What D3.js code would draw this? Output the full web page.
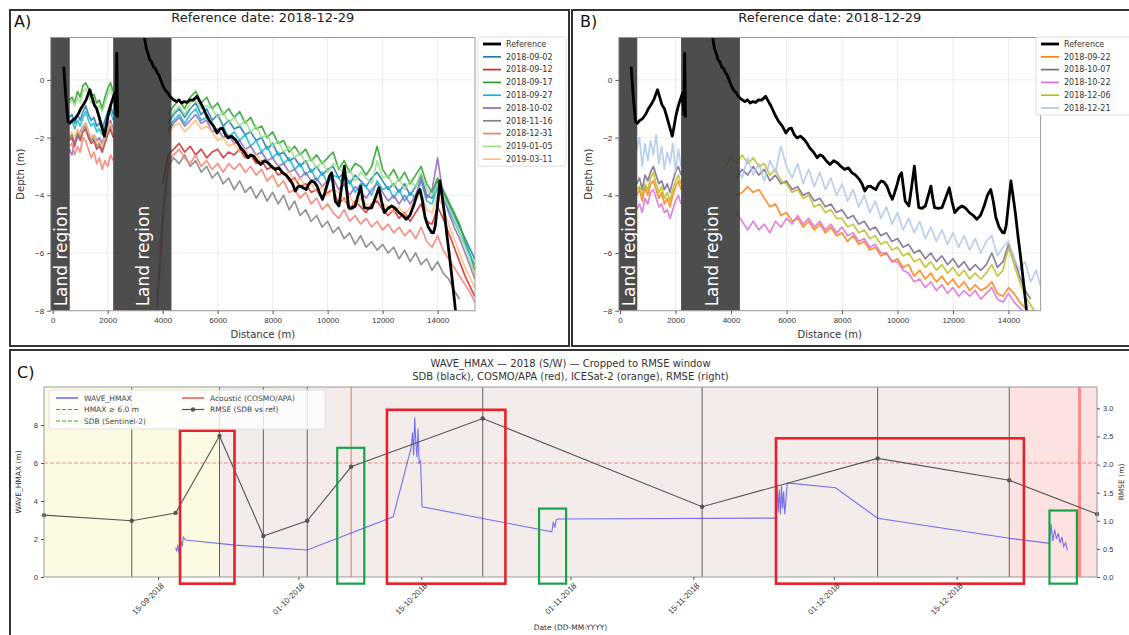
<!DOCTYPE html>
<html>
<head>
<meta charset="utf-8">
<script src="https://cdn.jsdelivr.net/npm/d3@7"></script>
<style>
  body { margin: 0; background: #fff; }
  svg { display: block; font-family: "DejaVu Sans", sans-serif; }
</style>
</head>
<body>
<div id="chart"></div>
<script>
// ---------- profile data (panels A and B) ----------
const nearDist = [600,700,800,900,1000,1100,1200,1300,1400,1500,1600,1700,1800,1900,2000,2100,2200];
const farDist = [3800,4000,4200,4400,4600,4800,5000,5200,5400,5600,5800,6000,6200,6400,6600,6800,7000,7200,7400,7600,
  7800,8000,8200,8400,8600,8800,9000,9200,9400,9600,9800,10000,10200,10400,10600,10800,11000,11200,11400,11600,
  11800,12000,12200,12400,12600,12800,13000,13200,13400,13600,13800,14000,14200,14400,14600,14800,15000,15200,15350];

const refDist = [400,470,555,620,720,820,920,1020,1120,1217,1350,1430,1508,1600,1680,1780,1880,1950,2010,2100,2170,2250,2300,2330,2360,
  2800,3300,3400,3466,3530,3598,3660,3730,3800,3862,3930,3995,4060,4127,4190,4259,4392,4500,4590,4690,4788,4890,4987,5100,5251,
  5350,5450,5580,5714,5850,5979,6080,6177,6280,6376,6500,6640,6740,6839,6970,7103,7200,7302,7430,7566,7700,7831,7960,8095,8230,
  8360,8490,8624,8720,8823,8920,9021,9120,9220,9320,9418,9520,9616,9720,9815,9900,9987,10060,10146,10210,10278,10410,10510,10608,
  10690,10767,10880,11005,11110,11204,11270,11336,11470,11601,11730,11865,11960,12063,12200,12328,12460,12593,12730,12857,12990,
  13122,13240,13360,13450,13545,13660,13783,13850,13915,14000,14087,14160,14246,14340,14444,14540,14643,14709];
const refDepth = [0.46,-0.5,-1.44,-1.5,-1.4,-1.33,-1.2,-1.0,-0.85,-0.69,-0.34,-0.6,-0.86,-1.0,-1.26,-1.6,-1.95,-1.6,-1.26,-0.9,-0.69,-0.46,-1.2,0.92,-1.3,
  null,1.7,1.1,0.92,0.7,0.63,0.45,0.4,0.25,0.17,0.0,-0.17,-0.3,-0.4,-0.45,-0.57,-0.69,-0.75,-0.69,-0.8,-0.75,-0.78,-0.69,-0.7,-0.57,
  -0.75,-0.92,-1.2,-1.44,-1.6,-1.84,-1.7,-1.67,-1.9,-2.01,-1.95,-2.07,-2.2,-2.36,-2.5,-2.7,-2.6,-2.64,-2.8,-2.93,-2.8,-2.87,-3.0,-3.1,-3.05,
  -3.22,-3.3,-3.45,-3.6,-3.85,-3.7,-3.68,-3.75,-3.8,-3.6,-3.5,-3.55,-3.68,-3.95,-4.14,-3.9,-3.62,-3.35,-3.22,-3.7,-4.2,-4.37,-3.7,-2.99,
  -3.8,-4.43,-4.45,-4.37,-4.0,-3.68,-4.1,-4.43,-4.45,-4.43,-4.1,-3.74,-4.2,-4.6,-4.45,-4.37,-4.45,-4.6,-4.7,-4.83,-4.7,
  -4.37,-4.0,-3.8,-4.2,-4.77,-5.1,-5.29,-5.3,-5.06,-4.3,-3.5,-4.0,-4.6,-5.4,-6.2,-7.0,-7.93,-8.4];

const landStart = [-200, 2200];
const landEnd = [620, 4320];

const datesA = ["2018-09-02","2018-09-12","2018-09-17","2018-09-27","2018-10-02","2018-11-16","2018-12-31","2019-01-05","2019-03-11"];
const colorsA = ["#1f78b4","#d62728","#2ca02c","#12b8d6","#9467bd","#808080","#f4806e","#98df8a","#ffbb78"];

const a0902Near = [-1.3,-1.2,-1.5,-1.2,-1.4,-1.1,-0.9,-1.2,-1.4,-1.3,-1.6,-1.5,-1.7,-1.4,-1.1,-0.9,-1.2];
const a0902Far = [null,null,-1.5,-1.2,-1.0,-1.3,-1.0,-0.8,-1.2,-1.0,-1.4,-1.2,-1.6,-1.4,-1.7,-1.6,-1.9,-1.8,-2.1,-2.0,
  -2.4,-2.2,-2.6,-2.5,-2.8,-2.7,-3.0,-2.8,-3.2,-3.0,-3.3,-3.1,-3.0,-3.4,-3.2,-3.6,-3.3,-3.5,-3.7,-3.4,
  -3.2,-3.5,-3.8,-3.6,-3.9,-3.6,-4.0,-3.7,-3.3,-4.0,-4.1,-3.5,-3.9,-4.3,-4.7,-5.1,-5.5,-5.9,-6.2];
const a0912Near = [-2.1,-2.0,-2.3,-1.9,-2.1,-1.8,-1.7,-2.0,-2.2,-2.1,-2.4,-2.3,-2.5,-2.2,-1.9,-1.7,-2.0];
const a0912Far = [null,-3.6,-2.6,-2.4,-2.2,-2.5,-2.3,-2.6,-2.4,-2.7,-2.5,-2.4,-2.7,-2.5,-2.6,-2.4,-2.7,-2.6,-2.9,-2.8,
  -3.1,-3.0,-3.3,-3.2,-3.5,-3.4,-3.7,-3.6,-3.9,-3.8,-4.1,-3.9,-3.8,-4.3,-4.1,-4.5,-4.2,-4.4,-4.6,-4.3,
  -4.2,-4.5,-4.7,-4.5,-4.8,-4.6,-4.9,-4.6,-4.3,-4.9,-5.0,-4.4,-4.8,-5.3,-5.8,-6.3,-6.8,-7.2,-7.5];
const a0917Near = [-0.7,-0.6,-0.8,-0.4,-0.6,-0.2,-0.1,-0.3,-0.6,-0.5,-0.8,-0.7,-1.0,-0.6,-0.3,-0.1,-0.4];
const a0917Far = [null,null,-1.2,-0.9,-0.7,-1.0,-0.6,-0.4,-0.8,-0.6,-1.0,-0.8,-1.2,-1.0,-1.3,-1.1,-1.5,-1.3,-1.7,-1.6,
  -2.0,-1.8,-2.2,-2.1,-2.5,-2.3,-2.6,-2.4,-2.8,-2.6,-2.9,-2.7,-2.5,-3.1,-2.8,-3.2,-2.9,-3.0,-3.3,-3.0,
  -2.3,-3.1,-3.4,-3.1,-3.5,-3.2,-3.6,-3.3,-3.0,-3.6,-3.9,-3.4,-3.8,-4.2,-4.6,-5.0,-5.6,-6.1,-6.6];
const a0927Near = [-1.5,-1.4,-1.7,-1.4,-1.6,-1.3,-1.1,-1.4,-1.6,-1.5,-1.8,-1.7,-1.9,-1.6,-1.3,-1.1,-1.4];
const a0927Far = [null,null,-1.7,-1.4,-1.2,-1.5,-1.2,-1.0,-1.4,-1.3,-1.5,-1.8,-1.6,-2.0,-1.8,-2.1,-1.9,-2.3,-2.1,-2.5,
  -2.3,-2.7,-2.5,-2.9,-2.7,-3.1,-2.9,-3.3,-3.1,-3.5,-3.2,-3.6,-3.3,-3.4,-3.7,-3.5,-3.9,-3.6,-3.7,-4.0,
  -3.5,-3.8,-3.7,-4.1,-3.8,-4.2,-3.9,-4.1,-3.5,-4.2,-4.3,-3.7,-4.1,-4.5,-4.9,-5.3,-5.7,-6.1,-6.4];
const a1002Near = [-2.4,-2.6,-2.2,-2.0,-1.8,-1.6,-1.5,-1.8,-2.0,-1.9,-2.1,-2.0,-2.2,-1.9,-1.6,-1.4,-1.7];
const a1002Far = [null,null,-1.8,-1.5,-1.3,-1.6,-1.4,-1.2,-1.5,-1.4,-1.8,-1.7,-2.0,-1.9,-2.2,-2.1,-2.4,-2.3,-2.6,-2.5,
  -2.8,-2.7,-3.0,-2.9,-3.2,-3.1,-3.4,-3.2,-3.5,-3.4,-3.7,-3.5,-3.4,-3.8,-3.6,-4.0,-3.7,-3.9,-4.1,-3.8,
  -3.6,-3.9,-4.2,-4.0,-4.3,-4.0,-4.3,-4.0,-3.4,-4.1,-3.8,-2.7,-4.0,-4.6,-5.1,-5.5,-6.0,-6.5,-6.9];
const a1116Near = [-2.0,-1.9,-2.2,-1.8,-2.0,-1.7,-1.6,-1.9,-2.1,-2.0,-2.3,-2.2,-2.4,-2.1,-1.8,-1.6,-1.9];
const a1116Far = [-7.9,-5.0,-3.0,-2.7,-2.9,-2.6,-3.0,-2.8,-3.2,-3.0,-3.4,-3.2,-3.6,-3.4,-3.8,-3.5,-3.9,-3.7,-4.1,-3.8,
  -4.2,-3.9,-4.3,-4.0,-4.5,-4.2,-4.7,-4.5,-4.9,-4.7,-5.1,-4.9,-5.3,-5.1,-5.5,-5.3,-5.7,-5.4,-5.8,-5.6,
  -5.9,-5.7,-6.0,-5.8,-6.2,-5.9,-6.3,-6.0,-6.4,-6.2,-6.6,-6.3,-6.7,-6.9,-7.3,-7.6,null,null,null];
const a1231Near = [-2.3,-2.2,-2.6,-2.3,-2.5,-2.0,-2.1,-2.4,-2.7,-2.5,-2.9,-2.7,-3.1,-2.8,-3.0,-2.6,-2.8];
const a1231Far = [-7.5,-4.5,-2.8,-2.6,-2.4,-2.7,-2.9,-2.6,-3.0,-2.8,-3.1,-2.9,-3.2,-2.9,-3.1,-2.9,-3.2,-3.0,-3.3,-3.1,
  -3.5,-3.3,-3.7,-3.5,-3.9,-3.8,-4.1,-3.9,-4.3,-4.1,-4.5,-4.3,-4.6,-4.8,-4.5,-4.9,-4.7,-5.0,-4.8,-5.1,
  -4.9,-5.2,-5.0,-5.3,-5.1,-5.4,-5.2,-5.5,-5.1,-5.6,-5.8,-5.4,-5.9,-6.2,-6.5,-6.8,-7.1,-7.4,-7.7];
const a0105Near = [-0.8,-0.7,-0.9,-0.6,-0.8,-0.4,-0.3,-0.5,-0.8,-0.7,-1.0,-0.9,-1.1,-0.8,-0.5,-0.3,-0.6];
const a0105Far = [null,null,-1.4,-1.1,-0.9,-1.2,-0.8,-0.7,-1.0,-0.9,-1.0,-1.3,-1.1,-1.5,-1.3,-1.6,-1.4,-1.8,-1.6,-2.0,
  -1.9,-2.3,-2.1,-2.5,-2.3,-2.7,-2.5,-2.9,-2.7,-3.1,-2.8,-3.2,-2.9,-3.0,-3.3,-3.1,-3.5,-3.2,-3.4,-3.6,
  -2.8,-3.4,-3.3,-3.7,-3.4,-3.8,-3.5,-3.7,-3.2,-3.8,-4.0,-3.6,-4.0,-4.4,-4.8,-5.3,-5.8,-6.3,-6.8];
const a0311Near = [-1.9,-1.8,-2.0,-1.7,-1.9,-1.6,-1.5,-1.8,-2.0,-1.9,-2.2,-2.1,-2.3,-2.0,-1.7,-1.5,-1.8];
const a0311Far = [null,null,-1.9,-1.6,-1.5,-1.8,-1.6,-1.4,-1.7,-1.6,-1.8,-2.1,-2.0,-2.3,-2.2,-2.5,-2.4,-2.7,-2.6,-2.9,
  -2.8,-3.1,-3.0,-3.3,-3.2,-3.5,-3.4,-3.7,-3.6,-3.9,-3.7,-4.0,-3.8,-3.9,-4.2,-4.0,-4.4,-4.1,-4.3,-4.5,
  -4.0,-4.3,-4.4,-4.6,-4.4,-4.7,-4.4,-4.2,-3.9,-4.5,-4.6,-4.0,-4.4,-5.0,-5.5,-6.0,-6.5,-6.9,-7.2];

const datesB = ["2018-09-22","2018-10-07","2018-10-22","2018-12-06","2018-12-21"];
const colorsB = ["#ff7f0e","#7a6a8c","#dd6fd8","#bcbd22","#aec7e8"];

const b0922Near = [-4.0,-3.8,-4.2,-3.7,-4.0,-3.6,-3.5,-3.8,-4.1,-3.9,-4.3,-4.1,-4.4,-4.0,-3.7,-3.5,-3.8];
const b0922Far = [null,null,-4.0,-3.9,-3.7,-3.9,-3.8,-4.1,-4.4,-4.3,-4.7,-4.6,-4.9,-4.8,-5.1,-4.9,-5.2,-5.0,-5.3,-5.1,
  -5.4,-5.3,-5.6,-5.4,-5.7,-5.6,-5.9,-5.8,-6.1,-6.0,-6.3,-6.2,-6.5,-6.4,-6.8,-6.6,-6.9,-6.7,-7.0,-6.8,
  -7.1,-6.9,-7.2,-7.0,-7.3,-7.1,-7.3,-7.2,-7.0,-7.4,-7.5,-7.2,-7.4,-7.7,-7.9,-8.2,null,null,null];
const b1007Near = [-3.6,-3.4,-3.8,-3.3,-3.5,-3.2,-3.0,-3.3,-3.6,-3.5,-3.8,-3.6,-3.9,-3.5,-3.2,-3.0,-3.3];
const b1007Far = [null,null,-3.4,-3.1,-3.3,-3.0,-3.3,-3.1,-3.5,-3.3,-3.6,-3.5,-3.8,-3.7,-4.0,-3.9,-4.2,-4.1,-4.4,-4.3,
  -4.6,-4.5,-4.8,-4.7,-5.0,-4.9,-5.2,-5.1,-5.4,-5.3,-5.6,-5.5,-5.8,-5.7,-6.0,-5.9,-6.2,-6.0,-6.3,-6.1,
  -6.4,-6.2,-6.5,-6.3,-6.6,-6.4,-6.6,-6.4,-6.0,-6.5,-6.3,-5.7,-6.2,-6.8,-7.3,-7.6,null,null,null];
const b1022Near = [-4.5,-4.3,-4.6,-4.1,-4.3,-3.9,-3.8,-4.1,-4.4,-4.3,-4.6,-4.5,-4.8,-4.5,-4.2,-4.0,-4.3];
const b1022Far = [null,null,-4.6,-4.9,-5.2,-4.9,-5.2,-5.0,-5.3,-4.9,-5.1,-4.8,-5.0,-4.7,-5.0,-4.8,-5.1,-4.9,-5.2,-5.0,
  -5.3,-5.1,-5.4,-5.3,-5.6,-5.5,-5.8,-5.7,-6.0,-6.0,-6.3,-6.3,-6.6,-6.7,-7.0,-6.9,-7.2,-7.0,-7.3,-7.1,
  -7.4,-7.2,-7.5,-7.3,-7.5,-7.3,-7.6,-7.4,-7.2,-7.6,-7.7,-7.4,-7.7,-7.9,-8.1,null,null,null,null];
const b1206Near = [-3.8,-3.7,-4.0,-3.6,-3.8,-3.4,-3.2,-3.6,-3.9,-3.7,-4.1,-3.9,-4.2,-3.8,-3.5,-3.3,-3.6];
const b1206Far = [-3.0,-2.7,-2.9,-2.6,-2.9,-2.7,-3.0,-2.9,-3.3,-3.1,-3.5,-3.6,-3.9,-3.8,-4.1,-4.0,-4.4,-4.3,-4.6,-4.5,
  -4.8,-4.8,-5.1,-5.0,-5.3,-5.2,-5.5,-5.4,-5.7,-5.6,-5.9,-5.8,-6.1,-6.0,-6.3,-6.2,-6.5,-6.3,-6.6,-6.4,
  -6.7,-6.5,-6.8,-6.6,-6.9,-6.7,-6.9,-6.7,-6.4,-6.8,-6.6,-5.8,-6.4,-7.0,-7.5,-7.8,-8.1,null,null];
const b1221Near = [-2.4,-2.0,-3.0,-2.2,-2.8,-2.1,-2.6,-1.9,-2.9,-2.3,-3.1,-2.5,-2.9,-2.2,-3.2,-2.4,-3.0];
const b1221Far = [null,null,-3.0,-3.4,-2.7,-3.3,-2.9,-3.5,-2.8,-3.2,-2.3,-3.0,-3.4,-2.9,-3.6,-3.1,-3.7,-3.2,-3.8,-3.4,
  -4.0,-3.6,-4.2,-3.8,-4.4,-4.0,-4.6,-4.2,-4.8,-4.4,-5.0,-4.6,-5.2,-4.8,-5.3,-4.9,-5.5,-5.1,-5.6,-5.2,
  -5.7,-5.3,-5.8,-5.4,-5.9,-5.5,-6.0,-5.6,-5.4,-6.1,-5.8,-5.6,-6.2,-6.6,-6.3,-7.0,-6.6,-7.3,-6.9];

const distTicks = [0,2000,4000,6000,8000,10000,12000,14000];
const depthTicks = [-8,-6,-4,-2,0];

// ---------- time series data (panel C) ----------
const rmseDates = ["2018-09-02","2018-09-12","2018-09-17","2018-09-22","2018-09-27","2018-10-02","2018-10-07","2018-10-22","2018-11-16","2018-12-06","2018-12-21","2018-12-31"];
const rmseValues = [1.10,1.00,1.14,2.51,0.73,1.00,1.96,2.82,1.25,2.11,1.72,1.12];

const waveTimes = [
  "2018-09-17T00:00","2018-09-17T03:00","2018-09-17T06:00","2018-09-17T09:00","2018-09-17T12:00","2018-09-17T15:00","2018-09-17T18:00","2018-09-17T21:00","2018-09-18T03:00",
  "2018-09-23T19:00","2018-10-02T00:00","2018-10-11T19:00",
  "2018-10-13T20:00","2018-10-14T00:00","2018-10-14T03:00","2018-10-14T06:00","2018-10-14T09:00","2018-10-14T12:00","2018-10-14T15:00","2018-10-14T18:00","2018-10-14T22:00",
  "2018-10-15T02:00",
  "2018-10-29T21:00","2018-10-30T01:00","2018-10-30T05:00","2018-10-30T09:00","2018-10-30T13:00",
  "2018-11-24T10:00",
  "2018-11-24T13:00","2018-11-24T16:00","2018-11-24T19:00","2018-11-24T22:00","2018-11-25T01:00","2018-11-25T04:00","2018-11-25T07:00","2018-11-25T10:00",
  "2018-11-25T17:00","2018-12-01T05:00","2018-12-06T00:00","2018-12-21T00:00","2018-12-25T14:00",
  "2018-12-25T18:00","2018-12-25T23:00","2018-12-26T04:00","2018-12-26T09:00","2018-12-26T14:00","2018-12-26T19:00","2018-12-27T00:00","2018-12-27T05:00","2018-12-27T10:00","2018-12-27T15:00"
];
const waveValues = [
  1.55,1.35,1.7,1.25,1.45,1.9,1.6,2.1,1.95,
  1.68,1.42,3.17,
  6.8,7.6,6.4,8.4,7.1,6.3,7.8,6.0,6.1,
  3.7,
  2.38,2.9,2.6,3.0,3.05,
  3.1,
  4.9,3.4,4.6,3.3,4.8,3.6,4.5,3.3,
  4.95,4.7,3.09,2.04,1.77,
  2.8,1.9,2.5,2.0,2.3,1.8,2.1,1.6,1.8,1.4
];

const sdbDates = ["2018-09-12","2018-09-22","2018-09-27","2018-10-02","2018-10-22","2018-11-16","2018-12-06","2018-12-21"];
const icesatDates = ["2018-10-07"];
const acousticDates = ["2018-12-29"];
const spanStart = ["2018-09-02","2018-09-22","2018-12-21"];
const spanEnd = ["2018-09-22","2018-12-21","2018-12-31"];

const redBoxStart = ["2018-09-17T12:00","2018-10-11T02:00","2018-11-24T10:00"];
const redBoxEnd = ["2018-09-23T17:00","2018-10-24T14:00","2018-12-22T16:00"];
const redBoxTop = [7.7,8.8,7.3];
const greenBoxStart = ["2018-10-05T10:00","2018-10-28T10:00","2018-12-25T14:00"];
const greenBoxEnd = ["2018-10-08T12:00","2018-10-31T12:00","2018-12-28T17:00"];
const greenBoxTop = [6.8,3.6,3.5];
const boxFloor = -0.35;

const dateTicks = ["2018-09-15","2018-10-01","2018-10-15","2018-11-01","2018-11-15","2018-12-01","2018-12-15"];
const hmaxTicks = [0,2,4,6,8];
const rmseTicks = [0,0.5,1,1.5,2,2.5,3];
const hmaxThreshold = 6;

// ---------- setup ----------
const w = 1129;
const h = 635;
const svg = d3.select("#chart").append("svg").attr("width", w).attr("height", h);
const minus = d => (d < 0 ? "\u2212" + Math.abs(d) : String(d));

// panel frames
[[10, 10, 559, 336], [572, 10, 570, 336], [10, 350, 1130, 300]].forEach(([x, y, fw, fh]) => {
  svg.append("rect").attr("x", x).attr("y", y).attr("width", fw).attr("height", fh)
    .attr("fill", "none").attr("stroke", "#333").attr("stroke-width", 2);
});

function styleAxis(g, size) {
  g.select(".domain").remove();
  g.selectAll(".tick line").attr("stroke", "#555");
  g.selectAll(".tick text").attr("fill", "#333").style("font-size", size + "px");
}

function drawProfile(p) {
  const x = d3.scaleLinear().domain(p.xDomain).range([p.left, p.right]);
  const y = d3.scaleLinear().domain([-8, 1.47]).range([p.bottom, p.top]);
  const g = svg.append("g");

  g.append("clipPath").attr("id", "clip" + p.key).append("rect")
    .attr("x", p.left).attr("y", p.top)
    .attr("width", p.right - p.left).attr("height", p.bottom - p.top);

  // grid
  g.append("g").selectAll("line").data(distTicks).join("line")
    .attr("x1", d => x(d)).attr("x2", d => x(d)).attr("y1", p.top).attr("y2", p.bottom)
    .attr("stroke", "#ececec");
  g.append("g").selectAll("line").data(depthTicks).join("line")
    .attr("x1", p.left).attr("x2", p.right).attr("y1", d => y(d)).attr("y2", d => y(d))
    .attr("stroke", "#ececec");

  const plot = g.append("g").attr("clip-path", `url(#clip${p.key})`);
  const line = d3.line().defined(d => d[1] != null).x(d => x(d[0])).y(d => y(d[1]));

  p.series.forEach(s => {
    [[nearDist, s.near], [farDist, s.far]].forEach(([dist, vals]) => {
      plot.append("path")
        .datum(dist.map((d, i) => [d, vals[i]]))
        .attr("d", line)
        .attr("fill", "none")
        .attr("stroke", s.color)
        .attr("stroke-width", 1.7)
        .attr("stroke-opacity", 0.85)
        .attr("stroke-linejoin", "round");
    });
  });

  // land regions
  const land = landStart.map((s, i) => [Math.max(s, p.xDomain[0]), landEnd[i]]);
  plot.selectAll("rect.land").data(land).join("rect")
    .attr("class", "land")
    .attr("x", d => x(d[0])).attr("width", d => x(d[1]) - x(d[0]))
    .attr("y", p.top).attr("height", p.bottom - p.top)
    .attr("fill", "#2e2e2e").attr("fill-opacity", 0.85);

  // reference profile
  plot.append("path")
    .datum(refDist.map((d, i) => [d, refDepth[i]]))
    .attr("d", line)
    .attr("fill", "none")
    .attr("stroke", "#000")
    .attr("stroke-width", 2.8)
    .attr("stroke-linejoin", "round");

  g.selectAll("text.land").data(land).join("text")
    .attr("class", "land")
    .attr("transform", d => `translate(${x((d[0] + d[1]) / 2) + 1},${y(-7.85)}) rotate(-90)`)
    .attr("dy", "0.36em")
    .attr("fill", "#fff")
    .style("font-size", "17px")
    .text("Land region");

  g.append("rect")
    .attr("x", p.left).attr("y", p.top)
    .attr("width", p.right - p.left).attr("height", p.bottom - p.top)
    .attr("fill", "none").attr("stroke", "#999");

  g.append("g").attr("transform", `translate(0,${p.bottom})`)
    .call(d3.axisBottom(x).tickValues(distTicks).tickSize(3.5).tickFormat(d3.format("d")))
    .call(a => styleAxis(a, 8));
  g.append("g").attr("transform", `translate(${p.left},0)`)
    .call(d3.axisLeft(y).tickValues(depthTicks).tickSize(3.5).tickFormat(minus))
    .call(a => styleAxis(a, 8));

  // labels
  g.append("text").attr("x", (p.left + p.right) / 2).attr("y", 22)
    .attr("text-anchor", "middle").attr("fill", "#222").style("font-size", "13px")
    .text("Reference date: 2018-12-29");
  g.append("text").attr("x", p.panelX).attr("y", 27)
    .attr("fill", "#111").style("font-size", "16px").text(p.label);
  g.append("text").attr("x", (p.left + p.right) / 2).attr("y", p.bottom + 27)
    .attr("text-anchor", "middle").attr("fill", "#333").style("font-size", "10px")
    .text("Distance (m)");
  g.append("text")
    .attr("transform", `translate(${p.left - 27},${(p.top + p.bottom) / 2}) rotate(-90)`)
    .attr("text-anchor", "middle").attr("fill", "#333").style("font-size", "10px")
    .text("Depth (m)");

  // legend
  const entries = [{ name: "Reference", color: "#000", width: 2.8 }]
    .concat(p.series.map(s => ({ name: s.name, color: s.color, width: 1.7 })));
  const lg = g.append("g").attr("transform", `translate(${p.legendX},37)`);
  lg.append("rect").attr("width", p.legendW).attr("height", 14 + (entries.length - 1) * 12.8)
    .attr("rx", 2).attr("fill", "#fff").attr("stroke", "#ddd");
  const row = lg.selectAll("g").data(entries).join("g")
    .attr("transform", (d, i) => `translate(0,${7 + i * 12.8})`);
  row.append("line").attr("x1", 5).attr("x2", 23)
    .attr("stroke", d => d.color).attr("stroke-width", d => d.width);
  row.append("text").attr("x", 28).attr("dy", "0.35em")
    .attr("fill", "#333").style("font-size", "8px").text(d => d.name);
}

const nearA = [a0902Near, a0912Near, a0917Near, a0927Near, a1002Near, a1116Near, a1231Near, a0105Near, a0311Near];
const farA = [a0902Far, a0912Far, a0917Far, a0927Far, a1002Far, a1116Far, a1231Far, a0105Far, a0311Far];
const nearB = [b0922Near, b1007Near, b1022Near, b1206Near, b1221Near];
const farB = [b0922Far, b1007Far, b1022Far, b1206Far, b1221Far];

drawProfile({
  key: "A", label: "A)", panelX: 14,
  left: 50.7, right: 475, top: 37.5, bottom: 310.7, xDomain: [-73, 15360],
  legendX: 478, legendW: 88,
  series: datesA.map((d, i) => ({ name: d, color: colorsA[i], near: nearA[i], far: farA[i] }))
});
drawProfile({
  key: "B", label: "B)", panelX: 580,
  left: 618.8, right: 1040.6, top: 37.5, bottom: 310.7, xDomain: [-45, 15157],
  legendX: 1036, legendW: 100,
  series: datesB.map((d, i) => ({ name: d, color: colorsB[i], near: nearB[i], far: farB[i] }))
});

// ---------- panel C ----------
const parseDay = d3.timeParse("%Y-%m-%d");
const parseTime = d3.timeParse("%Y-%m-%dT%H:%M");
const c = { left: 44, right: 1097, top: 387, bottom: 577 };

const xC = d3.scaleTime().domain([parseDay("2018-09-02"), parseDay("2018-12-31")]).range([c.left, c.right]);
const yL = d3.scaleLinear().domain([0, 10]).range([c.bottom, c.top]);
const yR = d3.scaleLinear().domain([0, 3.38]).range([c.bottom, c.top]);

const gc = svg.append("g");
gc.append("clipPath").attr("id", "clipC").append("rect")
  .attr("x", c.left).attr("y", c.top).attr("width", c.right - c.left).attr("height", c.bottom - c.top);
const pc = gc.append("g").attr("clip-path", "url(#clipC)");

const spanColors = ["#fdfae2", "#f4ecea", "#fde2e2"];
pc.selectAll("rect.span").data(spanStart).join("rect")
  .attr("x", d => xC(parseDay(d)))
  .attr("width", (d, i) => xC(parseDay(spanEnd[i])) - xC(parseDay(d)))
  .attr("y", c.top).attr("height", c.bottom - c.top)
  .attr("fill", (d, i) => spanColors[i]);

pc.selectAll("line.sdb").data(sdbDates).join("line")
  .attr("x1", d => xC(parseDay(d))).attr("x2", d => xC(parseDay(d)))
  .attr("y1", c.top).attr("y2", c.bottom)
  .attr("stroke", "#333").attr("stroke-opacity", 0.75).attr("stroke-width", 1);
pc.selectAll("line.ice").data(icesatDates).join("line")
  .attr("x1", d => xC(parseDay(d))).attr("x2", d => xC(parseDay(d)))
  .attr("y1", c.top).attr("y2", c.bottom)
  .attr("stroke", "#e0604a").attr("stroke-opacity", 0.85).attr("stroke-width", 1);
pc.selectAll("line.acou").data(acousticDates).join("line")
  .attr("x1", d => xC(parseDay(d))).attr("x2", d => xC(parseDay(d)))
  .attr("y1", c.top).attr("y2", c.bottom)
  .attr("stroke", "#ff2020").attr("stroke-opacity", 0.45).attr("stroke-width", 3);

pc.append("line")
  .attr("x1", c.left).attr("x2", c.right)
  .attr("y1", yL(hmaxThreshold)).attr("y2", yL(hmaxThreshold))
  .attr("stroke", "#d9534f").attr("stroke-opacity", 0.6).attr("stroke-dasharray", "4,2");

// wave height
pc.append("path")
  .datum(waveTimes.map((t, i) => [parseTime(t), waveValues[i]]))
  .attr("d", d3.line().x(d => xC(d[0])).y(d => yL(d[1])))
  .attr("fill", "none").attr("stroke", "#2020f0").attr("stroke-opacity", 0.6).attr("stroke-width", 1.1);

// RMSE on right axis
const rmse = rmseDates.map((d, i) => [parseDay(d), rmseValues[i]]);
gc.append("path").datum(rmse)
  .attr("d", d3.line().x(d => xC(d[0])).y(d => yR(d[1])))
  .attr("fill", "none").attr("stroke", "#555").attr("stroke-width", 1.1);
gc.selectAll("circle.rmse").data(rmse).join("circle")
  .attr("cx", d => xC(d[0])).attr("cy", d => yR(d[1])).attr("r", 2.2).attr("fill", "#555");

gc.append("rect")
  .attr("x", c.left).attr("y", c.top).attr("width", c.right - c.left).attr("height", c.bottom - c.top)
  .attr("fill", "none").attr("stroke", "#999");

// annotation boxes
const boxes = redBoxStart.map((s, i) => ({ s, e: redBoxEnd[i], top: redBoxTop[i], color: "#e8202a", sw: 2.6 }))
  .concat(greenBoxStart.map((s, i) => ({ s, e: greenBoxEnd[i], top: greenBoxTop[i], color: "#17a34a", sw: 2.2 })));
gc.selectAll("rect.box").data(boxes).join("rect")
  .attr("x", d => xC(parseTime(d.s)))
  .attr("width", d => xC(parseTime(d.e)) - xC(parseTime(d.s)))
  .attr("y", d => yL(d.top))
  .attr("height", d => yL(boxFloor) - yL(d.top))
  .attr("fill", "none").attr("stroke", d => d.color).attr("stroke-width", d => d.sw);

// axes
const xAxisC = gc.append("g").attr("transform", `translate(0,${c.bottom})`)
  .call(d3.axisBottom(xC).tickValues(dateTicks.map(parseDay)).tickSize(3).tickFormat(d3.timeFormat("%d-%m-%Y")))
  .call(a => styleAxis(a, 8));
xAxisC.selectAll(".tick text")
  .attr("text-anchor", "end").attr("dx", "-0.3em").attr("dy", "0.6em")
  .attr("transform", "rotate(-45)");
gc.append("g").attr("transform", `translate(${c.left},0)`)
  .call(d3.axisLeft(yL).tickValues(hmaxTicks).tickSize(3))
  .call(a => styleAxis(a, 7.5));
gc.append("g").attr("transform", `translate(${c.right},0)`)
  .call(d3.axisRight(yR).tickValues(rmseTicks).tickSize(3).tickFormat(d3.format(".1f")))
  .call(a => styleAxis(a, 7.5));

gc.append("text").attr("x", 17).attr("y", 378)
  .attr("fill", "#111").style("font-size", "16px").text("C)");
gc.append("text").attr("x", (c.left + c.right) / 2).attr("y", 367)
  .attr("text-anchor", "middle").attr("fill", "#333").style("font-size", "10px")
  .text("WAVE_HMAX \u2014 2018 (S/W) \u2014 Cropped to RMSE window");
gc.append("text").attr("x", (c.left + c.right) / 2).attr("y", 380)
  .attr("text-anchor", "middle").attr("fill", "#333").style("font-size", "10px")
  .text("SDB (black), COSMO/APA (red), ICESat-2 (orange), RMSE (right)");
gc.append("text").attr("x", (c.left + c.right) / 2).attr("y", 630)
  .attr("text-anchor", "middle").attr("fill", "#333").style("font-size", "7.5px")
  .text("Date (DD-MM-YYYY)");
gc.append("text").attr("transform", `translate(21,${(c.top + c.bottom) / 2}) rotate(-90)`)
  .attr("text-anchor", "middle").attr("fill", "#333").style("font-size", "7.5px")
  .text("WAVE_HMAX (m)");
gc.append("text").attr("transform", `translate(1124,${(c.top + c.bottom) / 2}) rotate(-90)`)
  .attr("text-anchor", "middle").attr("fill", "#333").style("font-size", "7.5px")
  .text("RMSE (m)");

// legend C
const legC = [
  { name: "WAVE_HMAX", color: "#4040f0", dash: null, col: 0, row: 0 },
  { name: "HMAX \u2265 6.0 m", color: "#d9534f", dash: "4,2", col: 0, row: 1 },
  { name: "SDB (Sentinel-2)", color: "#2ca02c", dash: "4,2", col: 0, row: 2 },
  { name: "Acoustic (COSMO/APA)", color: "#e03030", dash: null, col: 1, row: 0 },
  { name: "RMSE (SDB vs ref)", color: "#555", dash: null, col: 1, row: 1, marker: true }
];
const lc = gc.append("g").attr("transform", "translate(49,390)");
lc.append("rect").attr("width", 276).attr("height", 39).attr("rx", 2)
  .attr("fill", "#fff").attr("fill-opacity", 0.8).attr("stroke", "#e0e0e0");
const lrow = lc.selectAll("g").data(legC).join("g")
  .attr("transform", d => `translate(${d.col ? 133 : 7},${8 + d.row * 11.5})`);
lrow.append("line").attr("x1", 0).attr("x2", 22)
  .attr("stroke", d => d.color).attr("stroke-width", 1.2)
  .attr("stroke-dasharray", d => d.dash);
lrow.filter(d => d.marker).append("circle").attr("cx", 11).attr("r", 2.2).attr("fill", "#555");
lrow.append("text").attr("x", 28).attr("dy", "0.35em")
  .attr("fill", "#444").style("font-size", "7.5px").text(d => d.name);
</script>
</body>
</html>
